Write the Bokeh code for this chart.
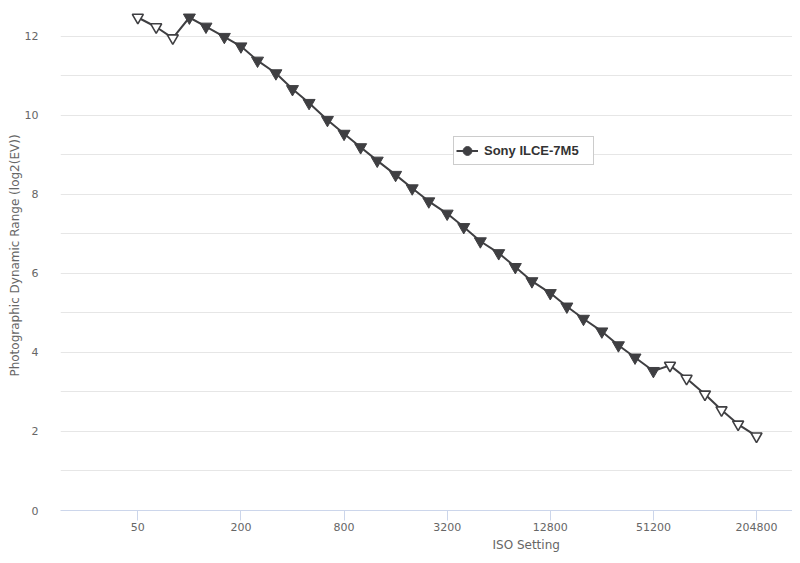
from bokeh.plotting import figure
from bokeh.models import (Range1d, FixedTicker, NumeralTickFormatter, Legend, LegendItem,
                          Title, ColumnDataSource)
from bokeh.embed import file_html
from bokeh.resources import INLINE

# ---- data ----
iso = [50, 64, 80, 100, 125, 160, 200, 250, 320, 400, 500, 640, 800, 1000, 1250, 1600,
       2000, 2500, 3200, 4000, 5000, 6400, 8000, 10000, 12800, 16000, 20000, 25600,
       32000, 40000, 51200, 64000, 80000, 102400, 128000, 160000, 204800]
dr = [12.47, 12.23, 11.95, 12.47, 12.24, 11.98, 11.74, 11.38, 11.06, 10.66, 10.31, 9.88,
      9.53, 9.19, 8.85, 8.49, 8.15, 7.82, 7.51, 7.17, 6.81, 6.51, 6.16, 5.80, 5.50, 5.16,
      4.85, 4.53, 4.18, 3.87, 3.53, 3.67, 3.34, 2.94, 2.54, 2.18, 1.88]
# True where the point is drawn as an open (extended ISO) marker
extended = [True, True, True] + [False] * 28 + [True] * 6
x_ticks = [50, 200, 800, 3200, 12800, 51200, 204800]
y_label_ticks = [0, 2, 4, 6, 8, 10, 12]
y_grid_ticks = list(range(0, 13))
series_name = "Sony ILCE-7M5"
x_title = "ISO Setting"
y_title = "Photographic Dynamic Range (log2(EV))"

FONT = "DejaVu Sans"
DARK = "#3f3f42"
TXT = "#666666"

p = figure(width=792, height=555, x_axis_type="log",
           x_range=Range1d(17.68, 332300), y_range=Range1d(0, 12.90),
           output_backend="svg", toolbar_location=None,
           min_border_left=60, min_border_right=0, min_border_top=0, min_border_bottom=45)
p.outline_line_color = None
p.background_fill_color = "white"
p.border_fill_color = "white"

# x axis
xa = p.xaxis[0]
xa.ticker = FixedTicker(ticks=x_ticks)
xa.formatter = NumeralTickFormatter(format="0")
xa.axis_line_color = "#ccd6eb"
xa.major_tick_line_color = "#ccd6eb"
xa.major_tick_out = 10
xa.major_tick_in = 0
xa.minor_tick_line_color = None
xa.major_label_text_font = FONT
xa.major_label_text_font_size = "11px"
xa.major_label_text_color = TXT
xa.major_label_standoff = 2

# y axis
ya = p.yaxis[0]
ya.ticker = FixedTicker(ticks=y_label_ticks)
ya.axis_line_color = None
ya.major_tick_line_color = None
ya.minor_tick_line_color = None
ya.major_label_text_font = FONT
ya.major_label_text_font_size = "11px"
ya.major_label_text_color = TXT
ya.major_label_standoff = 16
ya.axis_label = y_title
ya.axis_label_text_font = FONT
ya.axis_label_text_font_size = "12px"
ya.axis_label_text_font_style = "normal"
ya.axis_label_text_color = TXT
ya.axis_label_standoff = 0

p.xgrid.grid_line_color = None
p.ygrid.ticker = FixedTicker(ticks=y_grid_ticks)
p.ygrid.grid_line_color = "#e6e6e6"
p.ygrid.grid_line_width = 1

# series
p.line(iso, dr, line_color=DARK, line_width=2)
filled_src = ColumnDataSource(dict(x=[a for a, e in zip(iso, extended) if not e],
                                   y=[b for b, e in zip(dr, extended) if not e]))
open_src = ColumnDataSource(dict(x=[a for a, e in zip(iso, extended) if e],
                                 y=[b for b, e in zip(dr, extended) if e]))
p.scatter("x", "y", source=filled_src, marker="inverted_triangle", size=12,
          fill_color=DARK, line_color=DARK, line_width=1)
p.scatter("x", "y", source=open_src, marker="inverted_triangle", size=11,
          fill_color="white", line_color=DARK, line_width=1.6)

# legend key glyphs (their one point lies outside the visible ranges)
lg_line = p.line([1, 2], [-5, -5], line_color=DARK, line_width=2)
lg_dot = p.scatter([1], [-5], marker="circle", size=9, fill_color=DARK, line_color=DARK)
legend = Legend(items=[LegendItem(label=series_name, renderers=[lg_line, lg_dot])],
                location=(393, 345), margin=0, padding=2, spacing=0,
                glyph_width=22, glyph_height=23, label_standoff=6,
                label_width=107, label_height=15,
                label_text_font="Liberation Sans", label_text_font_style="bold",
                label_text_font_size="13px", label_text_color="#333333",
                border_line_color="#999999", border_line_width=1,
                background_fill_color="white", background_fill_alpha=1)
p.add_layout(legend, "center")

# x-axis title (the original plot area extends past the window, so it is off-centre)
p.add_layout(Title(text=x_title, align="left", offset=432, standoff=5,
                   text_font=FONT, text_font_size="12px", text_font_style="normal",
                   text_color=TXT), "below")

open("out.html", "w").write(file_html(p, INLINE))
